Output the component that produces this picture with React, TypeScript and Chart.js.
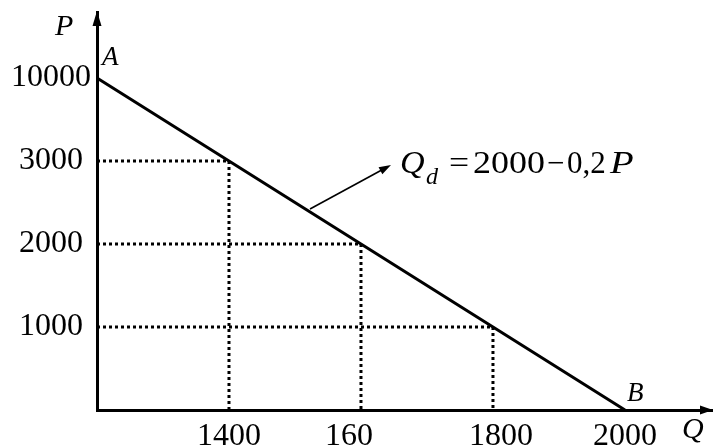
import React, { useEffect, useRef } from "react";
import { Chart, registerables } from "chart.js";

Chart.register(...registerables);

// Schematic (broken) axes: tick values are placed at equal steps
const qTicks = [0, 1400, 1600, 1800, 2000];
const qTickText = ["", "1400", "160   ", "  1800", "2000"];
const pTicks = [0, 1000, 2000, 3000, 10000];
const pTickText = ["", "1000 ", "2000 ", "3000 ", "10000"];

// Demand line Qd = 2000 - 0.2P
const demandQ = [0, 1400, 1600, 1800, 2000];
const demandP = [10000, 3000, 2000, 1000, 0];

// Dotted guide points
const guideQ = [1400, 1600, 1800];
const guideP = [3000, 2000, 1000];

const qPos = (q: number) => qTicks.indexOf(q);
const pPos = (p: number) => pTicks.indexOf(p);

const FONT = "'Liberation Serif', 'Times New Roman', serif";

export default function App() {
  const ref = useRef<HTMLCanvasElement | null>(null);

  useEffect(() => {
    document.body.style.margin = "0";
    const canvas = ref.current;
    if (!canvas) return;

    const demandData = demandQ.map((q, i) => ({ x: qPos(q), y: pPos(demandP[i]) }));
    const guideSets = guideQ.map((q, i) => ({
      data: [
        { x: 0, y: pPos(guideP[i]) },
        { x: qPos(q), y: pPos(guideP[i]) },
        { x: qPos(q), y: 0 },
      ],
      borderColor: "#000",
      borderWidth: 3,
      borderDash: [3, 3],
      pointRadius: 0,
      fill: false,
      clip: false as any,
    }));

    const annotations = {
      id: "annotations",
      afterDraw(chart: any) {
        const ctx = chart.ctx as CanvasRenderingContext2D;
        const area = chart.chartArea;
        const xs = chart.scales.x;
        const ys = chart.scales.y;
        const txt = (s: string, x: number, y: number, font: string, sx = 1) => {
          ctx.save();
          ctx.translate(x, y);
          ctx.scale(sx, 1);
          ctx.font = font;
          ctx.fillText(s, 0, 0);
          ctx.restore();
        };
        ctx.save();
        ctx.fillStyle = "#000";
        ctx.strokeStyle = "#000";
        // y-axis arrowhead
        const ax = area.left;
        ctx.beginPath();
        ctx.moveTo(ax, area.top - 1);
        ctx.lineTo(ax - 4.5, area.top + 14);
        ctx.lineTo(ax + 4.5, area.top + 14);
        ctx.closePath();
        ctx.fill();
        // x-axis arrowhead
        const ay = area.bottom;
        ctx.beginPath();
        ctx.moveTo(713, ay);
        ctx.lineTo(700, ay - 4.5);
        ctx.lineTo(700, ay + 4.5);
        ctx.closePath();
        ctx.fill();

        ctx.textAlign = "left";
        ctx.textBaseline = "alphabetic";
        // axis names & point labels
        txt("P", 55, 35, `italic 30px ${FONT}`);
        txt("Q", 682, 438, `italic 30px ${FONT}`);
        txt("A", xs.getPixelForValue(0) + 5, ys.getPixelForValue(pPos(10000)) - 13, `italic 27px ${FONT}`);
        txt("B", xs.getPixelForValue(qPos(2000)) + 2, ys.getPixelForValue(0) - 9, `italic 27px ${FONT}`);

        // equation
        txt("Q", 400, 173, `italic 31px ${FONT}`, 1.1);
        txt("d", 426, 184, `italic 23px ${FONT}`, 1.05);
        txt("=", 449, 173, `31px ${FONT}`, 1.15);
        txt("2000", 473, 173, `31px ${FONT}`, 1.16);
        txt("\u2212", 547, 173, `31px ${FONT}`, 1.0);
        txt("0,2", 567, 173, `31px ${FONT}`, 1.0);
        txt("P", 610, 173, `italic 31px ${FONT}`, 1.25);

        // pointer arrow
        const x0 = 310, y0 = 209, x1 = 391, y1 = 165;
        const ang = Math.atan2(y1 - y0, x1 - x0);
        ctx.lineWidth = 1.6;
        ctx.beginPath();
        ctx.moveTo(x0, y0);
        ctx.lineTo(x1 - 10 * Math.cos(ang), y1 - 10 * Math.sin(ang));
        ctx.stroke();
        ctx.beginPath();
        ctx.moveTo(x1, y1);
        ctx.lineTo(x1 - 12 * Math.cos(ang) + 4 * Math.sin(ang), y1 - 12 * Math.sin(ang) - 4 * Math.cos(ang));
        ctx.lineTo(x1 - 12 * Math.cos(ang) - 4 * Math.sin(ang), y1 - 12 * Math.sin(ang) + 4 * Math.cos(ang));
        ctx.closePath();
        ctx.fill();
        ctx.restore();
      },
    };

    const chart = new Chart(canvas, {
      type: "line",
      data: {
        datasets: [
          {
            data: demandData,
            borderColor: "#000",
            borderWidth: 3,
            pointRadius: 0,
            fill: false,
            clip: false as any,
          },
          ...guideSets,
        ],
      },
      options: {
        animation: false,
        responsive: false,
        layout: { padding: { top: 12, left: 0, right: 0, bottom: 0 } },
        plugins: { legend: { display: false }, tooltip: { enabled: false } },
        scales: {
          x: {
            type: "linear",
            min: 0,
            max: 4.667,
            grid: { display: false, drawTicks: false },
            border: { display: true, color: "#000", width: 3 },
            afterBuildTicks: (s: any) => {
              s.ticks = qTicks.map((_, i) => ({ value: i }));
            },
            afterFit: (s: any) => {
              s.height = 35;
              s.paddingLeft = 0;
              s.paddingRight = 0;
            },
            ticks: {
              autoSkip: false,
              maxRotation: 0,
              padding: 7,
              color: "#000",
              font: { family: FONT, size: 32 },
              callback: (v: any) => qTickText[Math.round(Number(v))] ?? "",
            },
          },
          y: {
            type: "linear",
            min: 0,
            max: 4.795,
            grid: { display: false, drawTicks: false },
            border: { display: true, color: "#000", width: 3 },
            afterBuildTicks: (s: any) => {
              s.ticks = pTicks.map((_, i) => ({ value: i }));
            },
            afterFit: (s: any) => {
              s.width = 97;
              s.paddingTop = 0;
              s.paddingBottom = 0;
            },
            ticks: {
              autoSkip: false,
              padding: 6,
              color: "#000",
              font: { family: FONT, size: 32 },
              callback: (v: any) => pTickText[Math.round(Number(v))] ?? "",
            },
          },
        },
      },
      plugins: [annotations],
    });

    return () => chart.destroy();
  }, []);

  return (
    <div style={{ width: 713, height: 445, background: "#fff" }}>
      <canvas ref={ref} width={713} height={445} style={{ display: "block" }} />
    </div>
  );
}
